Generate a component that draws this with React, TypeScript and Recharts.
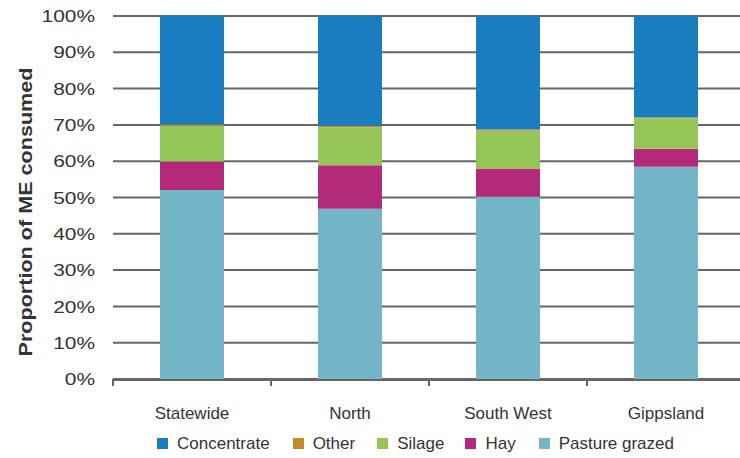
import { BarChart, Bar, XAxis, YAxis, CartesianGrid, Legend, Label } from "recharts";

const regions = ["Statewide", "North", "South West", "Gippsland"];

// share of metabolisable energy (%) by feed source, bottom to top of each stack
const pastureGrazed = [52.1, 46.9, 50.2, 58.5];
const hay = [7.8, 12.0, 7.8, 4.9];
const silage = [9.9, 10.4, 10.4, 8.4];
const other = [0.3, 0.4, 0.3, 0.3];
const concentrate = [29.9, 30.3, 31.3, 27.9];

const yTicks = [0, 10, 20, 30, 40, 50, 60, 70, 80, 90, 100];
const edgeTicks = [0, 1, 2, 3, 4];

const series = [
  { key: "pasture", name: "Pasture grazed", color: "#74b5c7", values: pastureGrazed },
  { key: "hay", name: "Hay", color: "#b32b78", values: hay },
  { key: "silage", name: "Silage", color: "#95c557", values: silage },
  { key: "other", name: "Other", color: "#c48a2c", values: other },
  { key: "concentrate", name: "Concentrate", color: "#1a7dc0", values: concentrate },
];

const legendOrder = ["concentrate", "other", "silage", "hay", "pasture"];

const data = regions.map((region, i) => {
  const row: Record<string, string | number> = { region, pos: i + 0.5 };
  series.forEach((s) => (row[s.key] = s.values[i]));
  return row;
});

const TEXT = "#333";
const GRID = "#666";

const YTick = ({ x, y, payload }: any) => {
  const label = `${payload.value}%`;
  const w = (label.length - 1) * 11.6 + 18.6;
  return (
    <text
      x={x - 10}
      y={y}
      dy="0.36em"
      textAnchor="end"
      fill={TEXT}
      fontSize={17}
      textLength={w}
      lengthAdjust="spacingAndGlyphs"
    >
      {label}
    </text>
  );
};

const LegendContent = () => {
  const items = legendOrder.map((k) => series.find((s) => s.key === k)!);
  const gaps = [0, 23, 22, 21, 23];
  return (
    <div style={{ display: "flex", alignItems: "center", paddingLeft: 157, height: 29 }}>
      {items.map((s, i) => (
        <div key={s.key} style={{ display: "flex", alignItems: "center", marginLeft: gaps[i] }}>
          <span style={{ width: 11, height: 11, background: s.color, display: "inline-block", marginRight: 9 }} />
          <span style={{ fontSize: 17, color: TEXT, fontFamily: "'Liberation Sans', Arial, sans-serif" }}>{s.name}</span>
        </div>
      ))}
    </div>
  );
};

export default function App() {
  return (
    <div style={{ position: "absolute", left: 0, top: 0, width: 740, height: 458, overflow: "hidden", background: "#fff" }}>
      <BarChart
        width={760}
        height={458}
        data={data}
        barSize={64}
        margin={{ top: 16, right: 15, left: 0, bottom: 0 }}
        style={{ fontFamily: "'Liberation Sans', Arial, sans-serif" }}
      >
        <CartesianGrid xAxisId="region" vertical={false} stroke={GRID} strokeWidth={2} />
        {/* tick marks sit on the category boundaries, not the centres */}
        <XAxis
          xAxisId="edges"
          dataKey="pos"
          type="number"
          domain={[0, 4]}
          ticks={edgeTicks}
          allowDataOverflow
          tick={() => <g />}
          axisLine={false}
          tickLine={{ stroke: GRID, strokeWidth: 2 }}
          tickSize={7}
          height={1}
        />
        <XAxis
          xAxisId="region"
          dataKey="region"
          axisLine={{ stroke: GRID, strokeWidth: 2 }}
          tickLine={false}
          tickSize={0}
          tickMargin={27}
          height={49}
          tick={{ fill: TEXT, fontSize: 17 }}
        />
        <YAxis
          width={113}
          domain={[0, 100]}
          ticks={yTicks}
          axisLine={false}
          tickLine={false}
          tick={<YTick />}
        >
          <Label
            content={() => (
              <text
                x={25}
                y={212}
                transform="rotate(-90 25 212)"
                textAnchor="middle"
                dominantBaseline="central"
                fontSize={19}
                fontWeight="bold"
                fill={TEXT}
                textLength={289}
                lengthAdjust="spacingAndGlyphs"
              >
                Proportion of ME consumed
              </text>
            )}
          />
        </YAxis>
        <Legend verticalAlign="bottom" content={<LegendContent />} wrapperStyle={{ height: 29 }} />
        {series.map((s) => (
          <Bar
            key={s.key}
            xAxisId="region"
            dataKey={s.key}
            name={s.name}
            stackId="feed"
            fill={s.color}
            isAnimationActive={false}
          />
        ))}
      </BarChart>
    </div>
  );
}
